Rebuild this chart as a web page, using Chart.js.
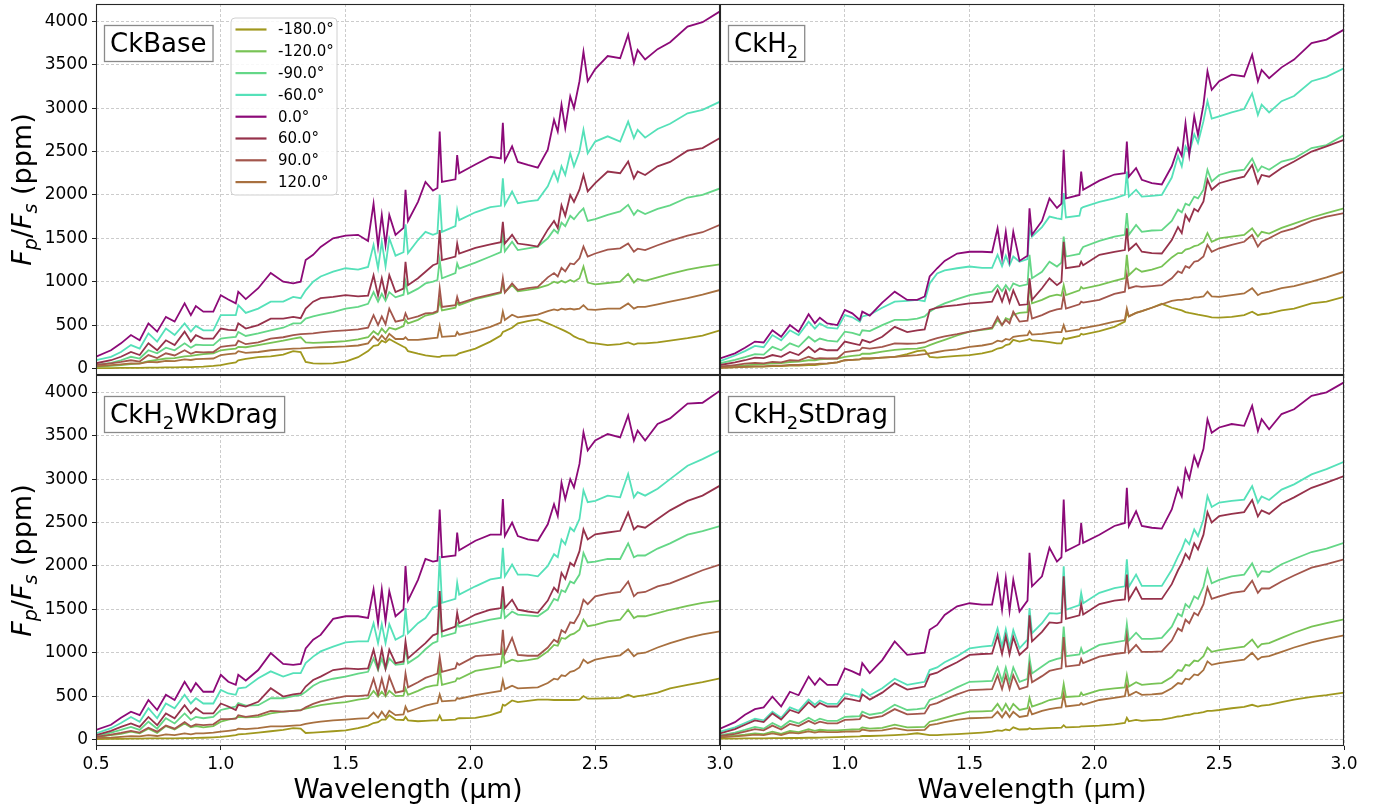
<!DOCTYPE html>
<html><head><meta charset="utf-8">
<script src="https://cdn.jsdelivr.net/npm/chart.js@4/dist/chart.umd.min.js"></script>
<style>
html,body{margin:0;padding:0;background:#fff;}
#wrap{position:relative;width:1383px;height:808px;overflow:hidden;}
canvas{position:absolute;left:0;top:0;}
</style></head><body>
<div id="wrap">
<canvas id="cA" width="1383" height="808"></canvas>
<canvas id="cB" width="1383" height="808"></canvas>
<canvas id="cC" width="1383" height="808"></canvas>
<canvas id="cD" width="1383" height="808"></canvas>
</div>
<script>
// ---------- data ----------
const wavelengths = [
0.50,0.56,0.60,0.64,0.675,0.71,0.745,0.78,0.815,0.855,
0.88,0.90,0.93,0.97,1.00,1.03,1.06,1.07,1.10,1.15,
1.20,1.25,1.29,1.32,1.34,1.37,1.40,1.45,1.50,1.55,
1.59,1.612,1.63,1.645,1.66,1.675,1.70,1.732,1.74,1.75,
1.79,1.82,1.85,1.868,1.877,1.886,1.94,1.947,1.955,2.02,
2.08,2.122,2.13,2.138,2.167,2.19,2.23,2.27,2.31,2.335,
2.35,2.365,2.38,2.40,2.415,2.437,2.453,2.47,2.50,2.55,
2.60,2.632,2.655,2.67,2.70,2.75,2.80,2.87,2.93,3.00];
const angleLabels = ['-180.0°','-120.0°','-90.0°','-60.0°','0.0°','60.0°','90.0°','120.0°'];
const lineColors = ['#a0981e','#78c355','#64d787','#55e1b9','#8c0a78','#96324b','#a3564c','#a8703f'];
const xTickValues = [0.5,1.0,1.5,2.0,2.5,3.0];
const yTickValues = [0,500,1000,1500,2000,2500,3000,3500,4000];

// CkBase
const base_m180 = [5,5,6,8,8,10,10,12,12,15, 15,18,22,30,40,55,70,95,110,130, 140,160,200,190,75,60,55,60,80,130, 200,260,270,320,300,340,300,250,240,200, 170,150,140,135,135,145,150,160,175,230, 310,380,420,430,470,520,545,565,520,490, 470,450,430,400,370,340,330,300,290,270, 280,300,275,290,290,300,320,350,380,440];
const base_m120 = [20,30,40,50,60,85,100,115,120,140, 145,155,165,175,210,220,230,250,245,270, 295,320,345,360,300,295,298,305,315,335, 360,430,390,460,410,470,450,490,560,520, 560,610,630,650,780,670,700,760,730,800, 840,870,1000,880,960,890,905,925,960,1000, 985,1010,990,1020,1000,1040,1175,990,970,985, 1000,1090,990,1030,1010,1050,1090,1140,1170,1200];
const base_m90 = [40,65,95,135,115,210,175,240,210,290, 240,275,270,270,345,355,365,420,375,405, 440,470,520,520,575,600,620,650,690,710, 745,880,770,860,780,880,820,850,1000,860, 920,980,1000,1020,1250,1040,1100,1210,1150,1220, 1290,1340,1560,1350,1460,1365,1385,1405,1500,1600, 1560,1680,1640,1760,1720,1800,1845,1700,1720,1770, 1810,1885,1770,1825,1780,1840,1880,1970,2000,2075];
const base_m60 = [95,135,190,270,230,405,310,460,385,520, 425,490,440,440,615,615,615,730,640,690, 770,770,825,810,900,1000,1060,1115,1155,1140, 1170,1425,1155,1460,1180,1500,1300,1340,1660,1330, 1480,1575,1540,1560,2005,1575,1640,1825,1710,1800, 1860,1875,2190,1885,2040,1905,1925,1940,2100,2270, 2160,2330,2230,2480,2330,2500,2750,2480,2615,2675, 2615,2845,2655,2750,2660,2760,2820,2940,2980,3075];
const base_0 = [135,210,290,385,325,520,425,595,540,750, 615,720,655,655,845,795,750,885,800,925, 1100,1000,980,1000,1250,1310,1400,1500,1530,1540, 1470,1900,1410,1770,1420,1770,1540,1620,2060,1700, 1920,2150,2050,2080,2730,2150,2180,2460,2250,2350, 2440,2420,2830,2390,2560,2380,2345,2315,2520,2865, 2730,3040,2770,3135,3000,3310,3650,3310,3450,3600, 3575,3845,3520,3670,3560,3680,3760,3940,3990,4115];
const base_60 = [60,95,135,190,155,290,210,325,270,425, 310,385,345,345,460,445,440,520,460,500, 575,575,595,580,690,770,810,825,845,830, 840,1075,840,1040,845,1075,880,920,1230,960, 1040,1115,1190,1210,1595,1250,1290,1440,1325,1390, 1430,1455,1690,1440,1540,1440,1425,1405,1600,1700, 1620,1880,1760,2000,1920,2060,2230,2040,2135,2270, 2250,2385,2190,2270,2230,2330,2380,2510,2540,2655];
const base_90 = [40,60,75,95,80,155,120,175,150,210, 170,190,185,190,250,260,270,320,280,300, 345,360,385,395,400,405,415,430,440,450, 470,615,500,600,510,690,540,560,635,570, 600,635,640,660,925,710,730,825,750,810, 850,880,1040,875,980,905,925,940,1050,1100, 1060,1160,1120,1210,1200,1270,1405,1290,1325,1370, 1385,1440,1345,1380,1365,1420,1470,1530,1570,1655];
const base_120 = [25,38,48,58,55,77,72,88,85,104, 98,108,110,115,155,165,175,200,180,190, 210,220,230,232,235,240,245,250,255,265, 290,370,320,380,330,400,340,340,360,330, 330,340,350,355,490,365,375,420,390,430, 480,530,655,560,620,590,605,620,660,680, 670,690,680,690,680,690,730,680,675,690, 690,750,690,710,710,740,770,810,850,905];

// CkH2
const h2_m180 = [8,12,18,22,22,28,28,32,32,40, 40,48,55,70,95,100,105,115,115,125, 135,165,200,210,135,125,135,145,155,175, 200,230,240,270,280,330,310,330,340,325, 315,305,290,290,350,340,375,400,390,430, 480,540,640,600,640,660,700,745,700,680, 670,650,640,630,620,610,600,590,585,595, 615,655,615,625,635,670,690,750,770,825];
const h2_m120 = [20,28,35,45,50,60,62,75,78,95, 95,105,110,115,135,145,155,170,170,195, 215,225,230,245,270,300,330,380,425,445, 460,560,500,580,560,620,640,650,980,750, 790,830,850,840,960,845,900,940,920,960, 1010,1040,1310,1075,1155,1115,1140,1175,1280,1330, 1330,1370,1380,1410,1420,1460,1560,1460,1500,1520, 1540,1615,1520,1575,1555,1620,1670,1740,1790,1845];
const h2_m90 = [60,100,130,165,160,250,210,290,250,365, 310,345,320,310,425,410,385,440,430,500, 560,560,575,600,655,710,750,800,845,870, 885,960,890,960,900,980,950,970,1310,1040, 1115,1230,1175,1220,1520,1290,1320,1365,1400,1470, 1520,1540,1790,1540,1655,1575,1590,1595,1700,1830, 1800,1900,1880,1980,1960,2060,2290,2155,2230,2270, 2290,2420,2270,2330,2290,2385,2420,2540,2575,2690];
const h2_m60 = [85,150,200,260,245,385,325,440,385,540, 460,520,470,460,615,590,540,600,620,700, 770,780,790,775,980,1095,1130,1155,1175,1160, 1160,1310,1180,1300,1190,1290,1230,1260,1600,1520, 1630,1750,1730,1720,2020,1740,1760,1845,1860,1920, 1960,2000,2270,1980,2060,1980,1990,2000,2200,2450, 2330,2560,2480,2700,2600,2850,3080,2880,2905,2950, 2990,3170,2920,3040,2950,3080,3140,3310,3360,3460];
const h2_0 = [115,175,240,310,300,440,365,500,425,625, 520,585,520,500,675,635,560,655,610,760, 885,790,790,830,1060,1155,1240,1325,1345,1345, 1340,1615,1270,1575,1250,1575,1240,1300,1845,1540, 1700,1960,1850,1900,2520,1960,2000,2270,2060,2165, 2235,2250,2615,2210,2310,2175,2135,2120,2330,2540, 2450,2825,2460,2905,2690,3040,3425,3210,3310,3385, 3365,3615,3310,3440,3345,3470,3560,3750,3790,3905];
const h2_60 = [40,70,95,125,120,155,135,190,155,250, 190,230,210,210,310,290,270,330,300,365, 480,420,440,450,675,700,715,730,750,760, 770,905,770,900,760,900,730,740,1040,790, 925,1040,960,1000,1460,1155,1180,1230,1190,1310, 1345,1365,1615,1365,1440,1345,1330,1325,1480,1630, 1560,1770,1700,1840,1810,1925,2175,2060,2135,2175, 2210,2345,2135,2230,2210,2310,2385,2500,2560,2635];
const h2_90 = [20,40,55,65,60,75,70,95,90,135, 110,120,115,115,190,200,210,240,230,250, 290,285,290,300,325,350,370,395,425,450, 470,595,500,560,520,655,540,550,730,575, 615,655,680,690,845,690,740,770,760,790, 860,885,1075,925,950,940,950,960,1040,1120, 1100,1180,1160,1230,1240,1290,1425,1345,1385,1425, 1460,1540,1405,1460,1500,1575,1615,1700,1750,1790];
const h2_120 = [8,15,20,25,25,32,32,40,40,50, 50,55,60,70,95,100,105,115,115,125, 135,145,155,165,175,190,205,220,250,265, 285,320,310,340,330,365,375,385,430,390, 400,410,420,420,500,425,450,470,465,500, 540,560,690,600,640,660,700,740,780,790, 790,800,800,820,820,830,885,830,825,845, 865,925,845,870,885,925,950,1000,1050,1115];

// CkH2WkDrag
const wk_m180 = [5,6,8,10,10,12,12,14,14,16, 16,18,20,25,30,40,50,60,65,80, 95,110,130,125,75,80,85,95,105,130, 160,190,200,230,230,280,230,225,260,220, 210,215,220,220,275,220,230,240,245,250, 280,320,400,390,450,430,445,460,460,455, 455,455,455,455,455,460,500,470,470,475, 480,515,490,500,510,540,590,630,660,705];
const wk_m120 = [25,50,65,90,70,125,75,155,115,185, 140,155,140,155,205,230,245,260,255,260, 300,320,330,340,355,375,395,415,430,460, 475,560,495,550,495,560,500,505,590,515, 560,600,620,625,840,630,670,705,700,790, 820,840,1015,880,920,900,915,935,1015,1090, 1080,1170,1160,1205,1220,1265,1380,1305,1320,1360, 1380,1495,1400,1420,1420,1455,1495,1540,1575,1600];
const wk_m90 = [40,80,110,145,110,205,125,245,185,300, 225,260,245,260,340,360,380,420,390,395, 475,475,500,510,550,620,665,700,725,760, 780,935,800,930,810,935,860,870,1070,880, 955,1040,1110,1130,1580,1185,1230,1340,1300,1340, 1380,1400,1595,1400,1475,1440,1430,1420,1500,1620, 1600,1720,1700,1820,1800,1900,2150,2040,2050,2080, 2080,2260,2100,2120,2120,2200,2260,2360,2400,2460];
const wk_m60 = [70,130,190,260,205,360,245,415,360,515, 415,475,415,415,570,530,515,590,600,705, 785,725,765,765,880,955,1015,1070,1120,1130, 1130,1340,1110,1330,1110,1330,1150,1200,1515,1225, 1340,1400,1520,1540,2115,1575,1620,1805,1670,1765, 1845,1865,2210,1880,2015,1900,1900,1880,2000,2135, 2100,2305,2250,2440,2400,2540,2870,2735,2750,2810, 2790,3060,2790,2850,2810,2890,3000,3155,3230,3330];
const wk_0 = [110,170,250,320,280,455,340,515,455,665, 550,650,550,550,745,665,630,745,680,800, 995,870,860,870,1050,1150,1205,1390,1420,1420, 1400,1730,1340,1730,1360,1710,1420,1500,2000,1600, 1840,2080,2050,2060,2650,2100,2120,2385,2180,2290, 2360,2360,2770,2345,2500,2345,2305,2290,2480,2710, 2575,2960,2770,3000,2905,3175,3540,3330,3445,3520, 3480,3735,3445,3560,3445,3635,3700,3870,3880,4020];
const wk_60 = [50,100,145,185,145,260,165,300,245,395, 300,360,300,300,415,380,340,400,380,435, 590,495,520,530,610,685,725,800,820,810, 820,1035,820,1040,820,1035,880,900,1130,935, 1035,1110,1200,1220,1710,1245,1300,1460,1340,1440, 1495,1515,1765,1515,1610,1495,1475,1460,1600,1750, 1700,1920,1850,2035,2000,2170,2420,2305,2365,2385, 2405,2615,2420,2460,2440,2540,2640,2750,2810,2925];
const wk_90 = [30,55,75,100,80,135,90,160,125,200, 150,175,165,175,235,235,240,280,260,280, 330,320,330,335,370,410,440,470,500,500, 510,700,520,700,530,725,540,560,760,600, 660,710,740,760,955,780,820,880,860,960, 975,985,1265,990,1170,975,965,965,1060,1150, 1120,1260,1230,1350,1340,1450,1610,1560,1650,1680, 1700,1820,1650,1690,1700,1765,1800,1880,1950,2015];
const wk_120 = [15,22,30,38,35,50,40,60,50,70, 60,70,70,80,90,100,110,125,120,130, 150,150,160,165,180,195,205,220,230,240, 245,310,250,320,260,330,280,290,380,320, 360,390,410,420,520,440,450,480,470,510, 540,560,680,580,620,590,595,600,650,700, 690,740,730,780,790,830,920,880,920,950, 970,1040,960,990,1000,1060,1110,1170,1210,1245];

// CkH2StDrag
const st_m180 = [10,10,12,13,13,15,15,17,17,20, 20,22,24,27,30,32,35,40,40,45, 50,58,72,60,50,50,55,62,70,80, 90,105,100,115,105,140,115,118,130,120, 125,130,135,137,165,140,145,150,150,160, 175,190,250,210,225,215,222,230,250,265, 270,280,285,300,305,315,330,330,340,360, 375,400,380,390,400,430,460,490,510,540];
const st_m120 = [30,45,55,70,62,90,65,100,85,120, 100,112,105,105,110,115,120,140,125,135, 170,140,142,145,205,225,250,290,320,325, 330,410,330,410,335,410,340,360,480,380, 420,455,470,480,640,490,500,540,510,570, 590,600,740,610,660,630,640,650,720,800, 790,860,850,910,900,960,1060,1010,1030,1050, 1070,1150,1060,1100,1110,1170,1230,1300,1340,1385];
const st_m90 = [50,80,110,145,125,190,140,215,185,250, 210,240,215,215,260,265,270,320,285,310, 400,340,350,360,455,490,530,600,665,670, 675,830,670,830,665,830,665,700,940,760, 840,900,930,940,1300,960,980,1050,990,1090, 1120,1140,1330,1140,1230,1160,1160,1170,1300,1450, 1420,1560,1520,1650,1620,1760,1960,1800,1840,1880, 1900,2030,1880,1940,1930,2020,2080,2160,2200,2265];
const st_m60 = [90,140,190,240,220,320,250,370,330,460, 400,450,410,410,530,510,490,580,510,590, 700,630,650,665,800,830,890,960,1050,1070, 1080,1280,1070,1270,1060,1260,1050,1150,1515,1225, 1340,1455,1450,1460,1995,1495,1550,1690,1570,1690, 1745,1765,2075,1760,1900,1770,1770,1770,1955,2110, 2190,2305,2250,2420,2345,2535,2805,2680,2730,2750, 2765,2920,2730,2800,2760,2880,2940,3055,3115,3200];
const st_0 = [125,200,285,350,370,495,380,550,510,725, 630,705,630,630,820,785,745,880,765,915, 1130,975,990,1000,1265,1320,1435,1535,1570,1555, 1555,1880,1495,1860,1480,1840,1475,1600,2150,1765, 1880,2210,2050,2100,2765,2170,2250,2495,2265,2360, 2460,2495,2900,2460,2630,2460,2440,2430,2650,2900, 2800,3115,3000,3265,3150,3350,3690,3535,3595,3635, 3615,3845,3555,3690,3575,3750,3805,3960,4000,4115];
const st_60 = [70,120,170,220,200,300,230,340,305,430, 370,420,380,380,475,460,440,520,460,540, 650,575,595,610,745,770,820,890,975,985, 990,1200,985,1190,980,1180,975,1060,1430,1130, 1240,1350,1340,1350,1880,1390,1430,1560,1440,1560, 1600,1615,1900,1610,1750,1620,1620,1620,1790,1950, 2030,2140,2080,2260,2190,2360,2620,2500,2575,2600, 2620,2760,2570,2640,2600,2720,2790,2900,2960,3035];
const st_90 = [40,65,90,120,105,160,115,180,155,215, 180,205,185,185,225,230,235,280,245,270, 350,290,295,300,395,420,460,520,570,575, 580,740,580,740,580,740,580,610,840,660, 730,790,810,820,1180,840,860,930,880,955, 985,1000,1200,1000,1090,1010,1010,1015,1140,1280, 1250,1380,1340,1460,1430,1560,1750,1620,1650,1690, 1710,1830,1690,1740,1740,1820,1890,1980,2020,2075];
const st_120 = [25,35,45,55,50,70,52,78,70,95, 80,90,85,85,90,92,95,115,100,105, 130,105,108,110,165,180,200,225,245,250, 255,320,255,320,258,320,260,275,360,290, 330,350,365,370,520,380,400,420,400,455, 480,500,620,505,550,515,520,530,590,650, 640,700,690,750,740,800,900,860,880,900, 920,1000,920,950,960,1010,1060,1120,1160,1200];

// ---------- drawing ----------
const FONTNAME = 'DejaVu Sans';
const FONT = '"DejaVu Sans", sans-serif';
function pts(vals){ return wavelengths.map((w,i)=>({x:w, y:vals[i]})); }

const panelDecor = {
  id:'panelDecor',
  afterDraw(chart, args, o){
    const ctx = chart.ctx, a = chart.chartArea;
    ctx.save();
    ctx.strokeStyle = '#262626'; ctx.lineWidth = 1.1;
    ctx.strokeRect(Math.round(a.left)+0.5, Math.round(a.top)+0.5, Math.round(a.right-a.left)-1, Math.round(a.bottom-a.top)-1);
    const big = '26px '+FONT, small = '18px '+FONT;
    let w = 0;
    o.label.forEach((p,i)=>{ ctx.font = (i%2)?small:big; w += ctx.measureText(p).width; });
    const bx = a.left+8, by = a.top+21, bh = 36, bw = w+12;
    ctx.fillStyle = '#fff'; ctx.fillRect(bx,by,bw,bh);
    ctx.strokeStyle = '#8a8a8a'; ctx.lineWidth = 1.3; ctx.strokeRect(bx+0.5,by+0.5,bw,bh);
    ctx.fillStyle = '#000'; ctx.textAlign = 'left'; ctx.textBaseline = 'alphabetic';
    let x = bx+6; const base = by+27;
    o.label.forEach((p,i)=>{ ctx.font = (i%2)?small:big; ctx.fillText(p, x, base + ((i%2)?6:0)); x += ctx.measureText(p).width; });
    if (o.legend){
      const lx = a.left+135, ly = a.top+14, lw = 106, lh = 177, r = 4;
      ctx.beginPath();
      ctx.moveTo(lx+r,ly); ctx.lineTo(lx+lw-r,ly); ctx.quadraticCurveTo(lx+lw,ly,lx+lw,ly+r);
      ctx.lineTo(lx+lw,ly+lh-r); ctx.quadraticCurveTo(lx+lw,ly+lh,lx+lw-r,ly+lh);
      ctx.lineTo(lx+r,ly+lh); ctx.quadraticCurveTo(lx,ly+lh,lx,ly+lh-r);
      ctx.lineTo(lx,ly+r); ctx.quadraticCurveTo(lx,ly,lx+r,ly); ctx.closePath();
      ctx.fillStyle = 'rgba(255,255,255,0.85)'; ctx.fill();
      ctx.strokeStyle = '#d0d0d0'; ctx.lineWidth = 1; ctx.stroke();
      ctx.font = '15px '+FONT; ctx.textBaseline = 'middle';
      angleLabels.forEach((lab,i)=>{
        const yy = ly + 11.5 + i*21.8;
        ctx.strokeStyle = lineColors[i]; ctx.lineWidth = 2.2;
        ctx.beginPath(); ctx.moveTo(lx+4.5,yy); ctx.lineTo(lx+35.5,yy); ctx.stroke();
        ctx.fillStyle = '#000'; ctx.fillText(lab, lx+47, yy+1);
      });
    }
    if (o.yTitle){
      const cy = (a.top+a.bottom)/2;
      ctx.save();
      ctx.translate(31, cy); ctx.rotate(-Math.PI/2);
      const pieces = [['F','italic 27px '+FONT,0],['p','italic 19px '+FONT,6],['/','27px '+FONT,0],['F','italic 27px '+FONT,0],['s','italic 19px '+FONT,6],[' (ppm)','27px '+FONT,0]];
      let tw = 0; pieces.forEach(p=>{ ctx.font = p[1]; tw += ctx.measureText(p[0]).width; });
      let px = -tw/2; ctx.fillStyle = '#000'; ctx.textBaseline = 'alphabetic'; ctx.textAlign = 'left';
      pieces.forEach(p=>{ ctx.font = p[1]; ctx.fillText(p[0], px, p[2]); px += ctx.measureText(p[0]).width; });
      ctx.restore();
    }
    if (o.xTitle){
      ctx.font = '26.5px '+FONT; ctx.fillStyle = '#000'; ctx.textAlign = 'center'; ctx.textBaseline = 'alphabetic';
      ctx.fillText('Wavelength (µm)', (a.left+a.right)/2, 798);
    }
    ctx.restore();
  }
};

function makeChart(id, p){
  const ar = p.area;
  const yW = p.yLabels ? ar[0] : 0;
  const xH = p.xLabels ? 808-ar[3] : 0;
  return new Chart(document.getElementById(id), {
    type:'line',
    data:{ datasets: p.series.map((vals,i)=>({
      label: angleLabels[i], data: pts(vals), borderColor: lineColors[i], backgroundColor: lineColors[i],
      borderWidth: 1.8, pointRadius: 0, tension: 0, fill: false, order: 7-i }))},
    options:{
      responsive:false, animation:false, devicePixelRatio:1,
      layout:{ autoPadding:false, padding:{ left:ar[0]-yW, top:ar[1], right:1383-ar[2], bottom:808-ar[3]-xH } },
      plugins:{ legend:{display:false}, tooltip:{enabled:false},
        panelDecor:{ label:p.label, legend:p.legend, yTitle:p.yLabels, xTitle:p.xLabels } },
      scales:{
        x:{ type:'linear', min:0.5, max:3.0,
          afterBuildTicks: s=>{ s.ticks = xTickValues.map(v=>({value:v})); },
          afterFit: s=>{ s.height = xH; s.paddingLeft = 0; s.paddingRight = 0; s.paddingTop = 0; s.paddingBottom = 0; },
          ticks:{ display:p.xLabels, font:{family:FONTNAME, size:17}, color:'#000', padding:4, maxRotation:0, autoSkip:false,
            callback:(v)=> (p.hideFirstX && Math.abs(v-0.5)<1e-6) ? '' : Number(v).toFixed(1) },
          grid:{ color:'#c6c6c6', lineWidth:0.9, drawTicks:p.xLabels, tickLength:4, tickColor:'#222', tickWidth:1, tickBorderDash:[] },
          border:{ display:false, dash:[3,2] } },
        y:{ type:'linear', min:-75, max:4200,
          afterBuildTicks: s=>{ s.ticks = yTickValues.map(v=>({value:v})); },
          afterFit: s=>{ s.width = yW; s.paddingTop = 0; s.paddingBottom = 0; s.paddingLeft = 0; s.paddingRight = 0; },
          ticks:{ display:p.yLabels, font:{family:FONTNAME, size:17}, color:'#000', padding:4,
            callback:(v)=> String(v) },
          grid:{ color:'#c6c6c6', lineWidth:0.9, drawTicks:p.yLabels, tickLength:4, tickColor:'#222', tickWidth:1, tickBorderDash:[] },
          border:{ display:false, dash:[3,2] } }
      }
    },
    plugins:[panelDecor]
  });
}

makeChart('cA', { area:[96,4,720,375], label:['CkBase'], legend:true, yLabels:true, xLabels:false,
  series:[base_m180,base_m120,base_m90,base_m60,base_0,base_60,base_90,base_120] });
makeChart('cB', { area:[720,4,1344,375], label:['CkH','2'], legend:false, yLabels:false, xLabels:false,
  series:[h2_m180,h2_m120,h2_m90,h2_m60,h2_0,h2_60,h2_90,h2_120] });
makeChart('cC', { area:[96,375,720,746], label:['CkH','2','WkDrag'], legend:false, yLabels:true, xLabels:true,
  series:[wk_m180,wk_m120,wk_m90,wk_m60,wk_0,wk_60,wk_90,wk_120] });
makeChart('cD', { area:[720,375,1344,746], label:['CkH','2','StDrag'], legend:false, yLabels:false, xLabels:true, hideFirstX:true,
  series:[st_m180,st_m120,st_m90,st_m60,st_0,st_60,st_90,st_120] });
</script>
</body></html>
